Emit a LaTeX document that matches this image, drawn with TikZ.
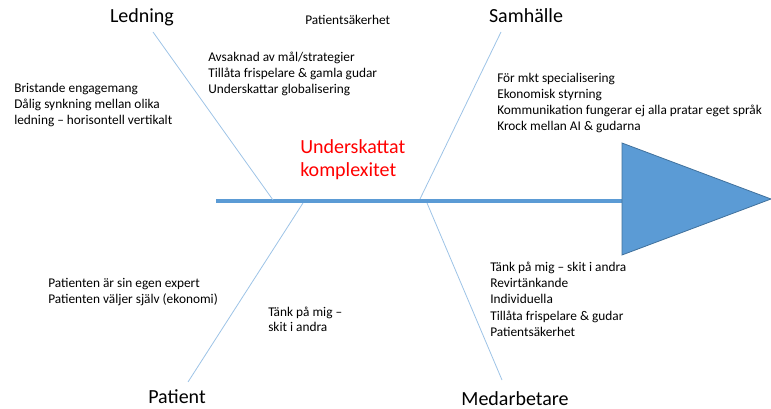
\documentclass[tikz,border=0pt]{standalone}
\usepackage{fontspec}
\setmainfont{Carlito}
\definecolor{spinecol}{HTML}{5B9BD5}
\definecolor{spineedge}{HTML}{41719C}
\definecolor{bonecol}{HTML}{9DC3E6}
\definecolor{redtxt}{HTML}{FF0000}
\begin{document}
\begin{tikzpicture}[x=0.75pt,y=-0.75pt,
  small/.style={font=\fontsize{10}{12.2}\selectfont, inner sep=0pt, align=left, anchor=north west},
  big/.style={font=\fontsize{15}{18}\selectfont, inner sep=0pt, anchor=base},
  bone/.style={draw=bonecol, line width=0.6pt},
]
\useasboundingbox (0,0) rectangle (771,409);
% spine and head
\coordinate (sp0) at (216,201);
\coordinate (sp1) at (630,201);
\draw[spinecol, line width=3.2pt] (sp0) -- (sp1);
\coordinate (t1) at (622,143);
\coordinate (t2) at (771,199);
\coordinate (t3) at (622,255);
\draw[fill=spinecol, draw=spineedge, line width=0.6pt] (t1) -- (t2) -- (t3) -- cycle;
% bones
\coordinate (l0) at (153,32);  \coordinate (l1) at (273,200);
\coordinate (s0) at (501,32);  \coordinate (s1) at (420,199);
\coordinate (p0) at (303,203); \coordinate (p1) at (188,382);
\coordinate (m0) at (427,203); \coordinate (m1) at (502,380);
\draw[bone] (l0) -- (l1);
\draw[bone] (s0) -- (s1);
\draw[bone] (p0) -- (p1);
\draw[bone] (m0) -- (m1);
% category labels
\node[big] (ledning) at (142,23) {Ledning};
\node[big] (samhalle) at (526,23) {Samhälle};
\node[big] (patient) at (177,403) {Patient};
\node[big] (medarb) at (515,406) {Medarbetare};
% problem
\node[font=\fontsize{15}{17.25}\selectfont, text=redtxt, inner sep=0pt, align=left, anchor=north west] (problem) at (300,136.9) {\strut Underskattat\\komplexitet};
% causes
\node[small] (ps) at (305,12.8) {\strut Patientsäkerhet};
\node[small] (avs) at (208,49.8) {\strut Avsaknad av mål/strategier\\Tillåta frispelare \& gamla gudar\\Underskattar globalisering};
\node[small] (bri) at (14,80.5) {\strut Bristande engagemang\\Dålig synkning mellan olika\\ledning – horisontell vertikalt};
\node[small] (sam) at (497,70.5) {\strut För mkt specialisering\\Ekonomisk styrning\\Kommunikation fungerar ej alla pratar eget språk\\Krock mellan AI \& gudarna};
\node[small] (med) at (490,259.8) {\strut Tänk på mig – skit i andra\\Revirtänkande\\Individuella\\Tillåta frispelare \& gudar\\Patientsäkerhet};
\node[small] (pat) at (48,275.8) {\strut Patienten är sin egen expert\\Patienten väljer själv (ekonomi)};
\node[small, font=\fontsize{10}{11.25}\selectfont] (tank) at (268,305.5) {\strut Tänk på mig –\\skit i andra};
\end{tikzpicture}
\end{document}
